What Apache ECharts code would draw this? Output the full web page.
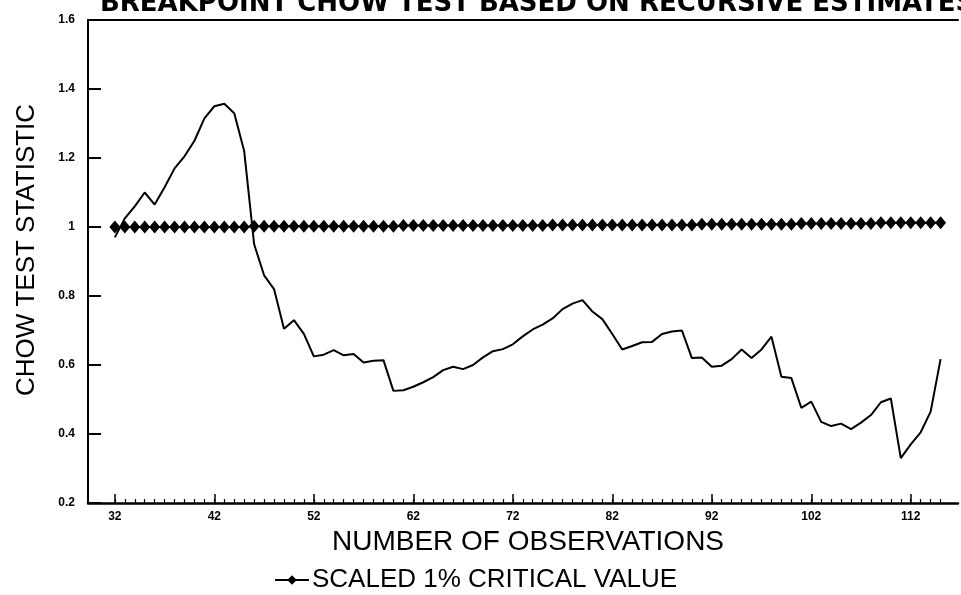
<!DOCTYPE html>
<html>
<head>
<meta charset="utf-8">
<script src="https://cdn.jsdelivr.net/npm/echarts@6/dist/echarts.min.js"></script>
<style>
  html, body { margin: 0; padding: 0; background: #fff; }
  #chart { width: 961px; height: 595px; }
</style>
</head>
<body>
<div id="chart"></div>
<script>
// Number of observations used in each recursive estimate
const observations = [
  32, 33, 34, 35, 36, 37, 38, 39, 40, 41, 42, 43, 44, 45, 46, 47, 48, 49, 50, 51,
  52, 53, 54, 55, 56, 57, 58, 59, 60, 61, 62, 63, 64, 65, 66, 67, 68, 69, 70, 71,
  72, 73, 74, 75, 76, 77, 78, 79, 80, 81, 82, 83, 84, 85, 86, 87, 88, 89, 90, 91,
  92, 93, 94, 95, 96, 97, 98, 99, 100, 101, 102, 103, 104, 105, 106, 107, 108, 109, 110, 111,
  112, 113, 114, 115
];

// Breakpoint Chow test statistic
const chowStatistic = [
  0.970, 1.025, 1.060, 1.100, 1.065, 1.115, 1.170, 1.205, 1.250, 1.315,
  1.350, 1.357, 1.330, 1.220, 0.950, 0.860, 0.820, 0.705, 0.730, 0.690,
  0.625, 0.630, 0.643, 0.628, 0.632, 0.607, 0.612, 0.614, 0.525, 0.527,
  0.537, 0.550, 0.565, 0.585, 0.595, 0.588, 0.600, 0.622, 0.640, 0.646,
  0.660, 0.683, 0.703, 0.717, 0.735, 0.762, 0.778, 0.788, 0.755, 0.733,
  0.690, 0.645, 0.655, 0.666, 0.667, 0.690, 0.697, 0.700, 0.620, 0.622,
  0.595, 0.598, 0.617, 0.645, 0.620, 0.645, 0.682, 0.566, 0.562, 0.476,
  0.494, 0.435, 0.423, 0.430, 0.414, 0.433, 0.455, 0.492, 0.503, 0.330,
  0.370, 0.405, 0.465, 0.617
];

// Scaled 1% critical value
const criticalValue = [
  1.000, 1.000, 1.000, 1.000, 1.000, 1.000, 1.000, 1.000, 1.000, 1.000,
  1.000, 1.000, 1.000, 1.000, 1.002, 1.002, 1.002, 1.002, 1.002, 1.002,
  1.002, 1.002, 1.002, 1.002, 1.002, 1.002, 1.002, 1.002, 1.002, 1.004,
  1.004, 1.004, 1.004, 1.004, 1.004, 1.004, 1.004, 1.004, 1.004, 1.004,
  1.004, 1.004, 1.004, 1.004, 1.006, 1.006, 1.006, 1.006, 1.006, 1.006,
  1.006, 1.006, 1.006, 1.006, 1.006, 1.006, 1.006, 1.006, 1.006, 1.008,
  1.008, 1.008, 1.008, 1.008, 1.008, 1.008, 1.008, 1.008, 1.008, 1.010,
  1.010, 1.010, 1.010, 1.010, 1.010, 1.010, 1.010, 1.012, 1.012, 1.012,
  1.012, 1.012, 1.012, 1.012
];

// Labelled ticks on the observation axis
const xLabelTicks = [32, 42, 52, 62, 72, 82, 92, 102, 112];

const titleText = 'BREAKPOINT CHOW TEST BASED ON RECURSIVE ESTIMATES';
const xAxisTitle = 'NUMBER OF OBSERVATIONS';
const yAxisTitle = 'CHOW TEST STATISTIC';
const criticalName = 'SCALED 1% CRITICAL VALUE';

const xMin = 29.3, xMax = 116.75;
const textFont = '"Liberation Sans", Arial, sans-serif';

const chart = echarts.init(document.getElementById('chart'), null, { renderer: 'canvas' });

chart.setOption({
  animation: false,
  backgroundColor: '#fff',
  title: {
    text: titleText,
    left: 100,
    top: -9,
    padding: 0,
    textStyle: { color: '#000', fontSize: 26, fontWeight: 'bold', fontFamily: '"DejaVu Sans", sans-serif' }
  },
  grid: { left: 88, right: 3, top: 20, bottom: 92, containLabel: false, outerBoundsMode: 'none' },
  legend: {
    data: [criticalName],
    left: 274,
    top: 567,
    itemWidth: 34,
    itemHeight: 12,
    itemGap: 4,
    padding: 0,
    textStyle: { color: '#000', fontSize: 26, fontFamily: textFont, padding: [0, 0, 0, -2] }
  },
  graphic: [{
    type: 'text',
    x: 27,
    y: 250,
    rotation: Math.PI / 2,
    style: {
      text: yAxisTitle,
      fill: '#000',
      font: '26px ' + textFont,
      textAlign: 'center',
      textVerticalAlign: 'middle'
    }
  }],
  xAxis: [
    {
      type: 'value',
      min: xMin,
      max: xMax,
      position: 'bottom',
      axisLine: { show: true, onZero: false, lineStyle: { color: '#000', width: 2.5 } },
      axisTick: { show: true, inside: true, length: 9, customValues: xLabelTicks, lineStyle: { color: '#000', width: 1.5 } },
      axisLabel: { customValues: xLabelTicks, color: '#000', fontSize: 12, fontWeight: 'bold', fontFamily: textFont, margin: 8 },
      splitLine: { show: false },
      name: xAxisTitle,
      nameLocation: 'middle',
      nameGap: 23,
      nameTextStyle: { color: '#000', fontSize: 28, fontFamily: textFont, padding: [0, 0, 0, 10] }
    },
    {
      type: 'value',
      min: xMin,
      max: xMax,
      position: 'bottom',
      axisLine: { show: false },
      axisTick: { show: true, inside: true, length: 4, customValues: observations, lineStyle: { color: '#000', width: 1.2 } },
      axisLabel: { show: false },
      splitLine: { show: false }
    },
    {
      type: 'value',
      min: xMin,
      max: xMax,
      position: 'top',
      axisLine: { show: true, onZero: false, lineStyle: { color: '#000', width: 2 } },
      axisTick: { show: false },
      axisLabel: { show: false },
      splitLine: { show: false }
    }
  ],
  yAxis: {
    type: 'value',
    min: 0.2,
    max: 1.6,
    interval: 0.2,
    axisLine: { show: true, onZero: false, lineStyle: { color: '#000', width: 2 } },
    axisTick: { show: true, inside: true, length: 13, lineStyle: { color: '#000', width: 2 } },
    axisLabel: { color: '#000', fontSize: 12, fontWeight: 'bold', fontFamily: textFont, margin: 13 },
    splitLine: { show: false }
  },
  series: [
    {
      name: criticalName,
      type: 'line',
      xAxisIndex: 0,
      data: observations.map((o, i) => [o, criticalValue[i]]),
      symbol: 'diamond',
      symbolSize: [11, 13],
      showAllSymbol: true,
      itemStyle: { color: '#000' },
      lineStyle: { color: '#000', width: 2 },
      z: 2
    },
    {
      name: 'CHOW TEST STATISTIC',
      type: 'line',
      xAxisIndex: 0,
      data: observations.map((o, i) => [o, chowStatistic[i]]),
      symbol: 'none',
      lineStyle: { color: '#000', width: 2 },
      z: 3
    }
  ]
});
</script>
</body>
</html>
